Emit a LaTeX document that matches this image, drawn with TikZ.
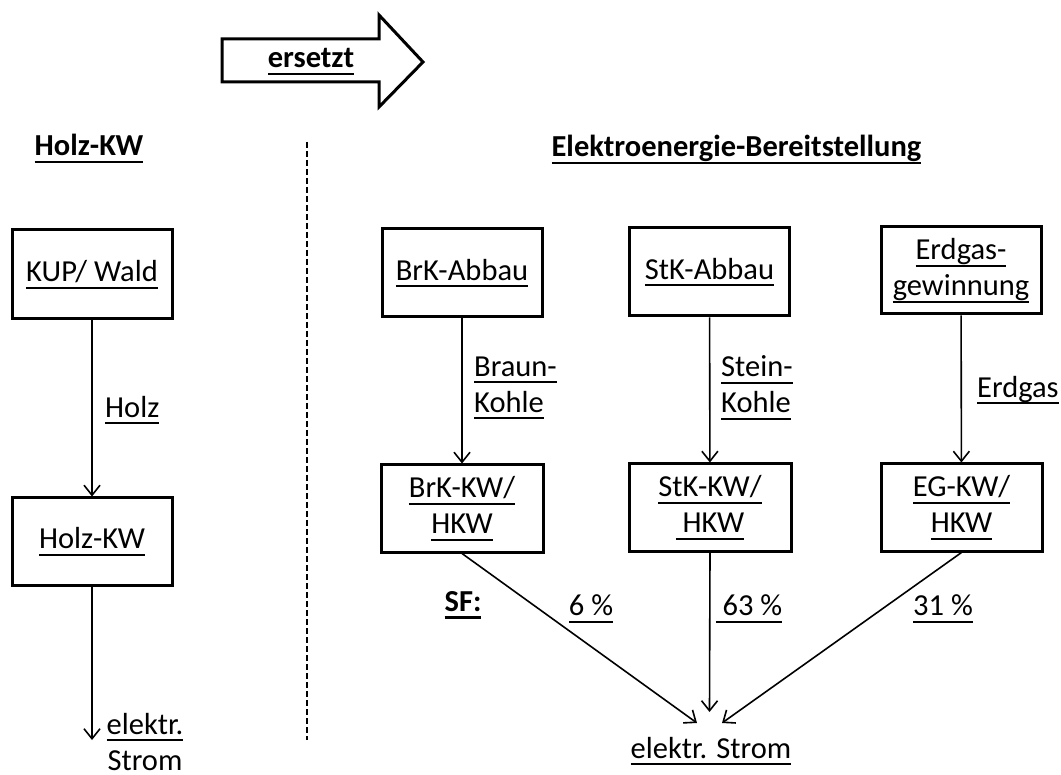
\documentclass[tikz,border=0pt]{standalone}
\usepackage{fontspec}
\setmainfont{Carlito}
\usetikzlibrary{arrows.meta}
\newcommand{\myul}[1]{\leavevmode\setbox0\hbox{#1}\rlap{\rule[-7pt]{\wd0}{2pt}}\box0}
\newcommand{\myulb}[1]{\leavevmode\setbox0\hbox{#1}\rlap{\rule[-7.5pt]{\wd0}{2.6pt}}\box0}
\begin{document}
\begin{tikzpicture}[x=1pt,y=-1pt,
  every node/.style={font=\fontsize{30.5}{36}\selectfont, inner sep=0pt},
  procbox/.style={draw, line width=3pt, minimum width=160pt, minimum height=88pt, align=center},
  conn/.style={line width=1.6pt, -{Straight Barb[length=10pt,width=16pt,line width=1.6pt]}},
  lbl/.style={align=left, anchor=west}]
\useasboundingbox (0,0) rectangle (1061,775);
% replacement arrow
\draw[line width=3pt, line join=miter] (222,39) -- (379,39) -- (379,15) -- (423,62) -- (379,107) -- (379,82) -- (222,82) -- cycle;
\node (ersetzt) at (311,62) {\bfseries\myulb{ersetzt}};
% headers
\node (h1) at (89,149) {\bfseries\myulb{Holz-KW}};
\node (h2) at (736.5,150) {\bfseries\myulb{Elektroenergie-Bereitstellung}};
% divider
\coordinate (d1) at (307,142);
\coordinate (d2) at (307,740);
\draw[line width=2pt, dash pattern=on 6pt off 3pt] (d1) -- (d2);
% left column
\node[procbox, minimum height=89pt] (kup) at (92,274.5) {\myul{KUP/ Wald}};
\node[procbox, minimum height=87pt] (holzkw) at (92,541.5) {\myul{Holz-KW}};
\draw[conn] (kup) -- (holzkw);
\node[lbl] (holz) at (105,410) {\myul{Holz}};
\coordinate (e1) at (92,740);
\draw[conn] (holzkw.south) -- (e1);
\node[align=center] (strom1) at (145,742) {\myul{elektr.}\\Strom};
% right: top row
\node[procbox] (brka) at (462,273) {\myul{BrK-Abbau}};
\node[procbox] (stka) at (709.5,272) {\myul{StK-Abbau}};
\node[procbox, minimum height=87pt] (ega) at (961,270.5) {\myul{Erdgas-}\\\myul{gewinnung}};
% right: second row
\node[procbox, minimum width=162pt, minimum height=87pt] (brkkw) at (462,508.5) {\myul{BrK-KW/}\\\myul{HKW}};
\node[procbox, minimum width=162pt, minimum height=87pt] (stkkw) at (710,507.5) {\myul{StK-KW/}\\\myul{\ HKW}};
\node[procbox, minimum width=161pt, minimum height=87pt] (egkw) at (961.5,507.5) {\myul{EG-KW/}\\\myul{HKW}};
\draw[conn] (brka) -- (brkkw);
\draw[conn] (stka) -- (stkkw);
\draw[conn] (ega) -- (egkw);
\node[lbl] (l1) at (474,388) {\myul{Braun-}\\\myul{Kohle}};
\node[lbl] (l2) at (721,388) {\myul{Stein-}\\\myul{Kohle}};
\node[lbl] (l3) at (977,390) {\myul{Erdgas}};
% shares
\node (sf) at (463,605) {\bfseries\myulb{SF:}};
\node (p1) at (591,609) {\myul{6 \%}};
\node (p2) at (749,609) {\myul{\ 63 \%}};
\node (p3) at (943,609) {\myul{31 \%}};
% bottom
\node (strom2) at (711,751) {\myul{elektr. Strom}};
\coordinate (t1) at (697,723);
\coordinate (t2) at (709.5,712);
\coordinate (t3) at (722,723);
\draw[conn] (brkkw.south) -- (t1);
\draw[conn] (stkkw.south) -- (t2);
\draw[conn] (egkw.south) -- (t3);
\end{tikzpicture}
\end{document}
